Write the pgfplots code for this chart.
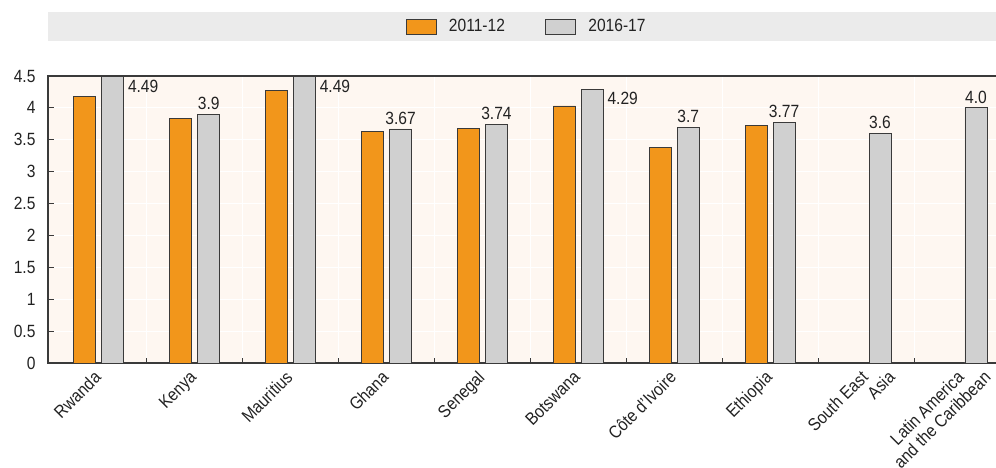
\documentclass[border=0pt]{standalone}
\usepackage{pgfplots}
\pgfplotsset{compat=1.18}
\usepackage{fontspec}
\setmainfont{Liberation Sans}[FakeStretch=0.88]
\definecolor{orangebar}{HTML}{F2961B}
\definecolor{graybar}{HTML}{D0D0D0}
\definecolor{barline}{HTML}{3A3A3A}
\definecolor{bgpeach}{HTML}{FEF7F1}
\definecolor{bandgray}{HTML}{EBEBEB}
\definecolor{txt}{HTML}{222222}
\newcommand{\twoline}[2]{#1\rlap{\raisebox{-19pt}{\hspace*{19pt}\llap{#2}}}}
\begin{document}
\begin{tikzpicture}
\useasboundingbox (-48pt,-104pt) rectangle (948pt,363pt);
\begin{axis}[
  at={(0pt,0pt)}, anchor=south west,
  scale only axis, width=952pt, height=287pt,
  xmin=-0.53, xmax=9.397, ymin=0, ymax=4.5,
  clip=false,
  axis background/.style={fill=bgpeach},
  ytick={0,0.5,...,4.5},
  xtick={0,...,9},
  xticklabels={Rwanda,Kenya,Mauritius,Ghana,Senegal,Botswana,{C\^ote d'Ivoire},Ethiopia,{\twoline{South East}{Asia}},{\twoline{Latin America}{and the Caribbean}}},
  minor xtick={0.5,1.5,...,8.5},
  xminorgrids, ymajorgrids,
  major grid style={white, line width=0.8pt},
  minor grid style={white, line width=0.8pt},
  tick align=inside, ytick pos=left, xtick pos=bottom,
  major tick length=6pt, minor tick length=5pt,
  major x tick style={draw=none},
  tick style={barline, line width=0.8pt},
  axis line style={barline, line width=1.2pt},
  /pgf/number format/assume math mode=true,
  yticklabel style={font=\fontsize{17.7}{20}\selectfont, text=txt, xshift=-9pt},
  xticklabel style={xshift=-6pt, yshift=-5pt, font=\fontsize{17.7}{19}\selectfont, text=txt, rotate=45, anchor=north east, inner sep=1pt},
  legend style={at={(0.5027,1.1725)}, anchor=center, draw=none, fill=none, legend columns=2, font=\fontsize{17.7}{20}\selectfont, text=txt, /tikz/every even column/.append style={column sep=38pt}},
  legend image code/.code={\path[draw=none, fill=none] (0pt,0pt) -- (41pt,0pt);\draw[#1, draw=barline, line width=0.8pt] (0pt,-7.5pt) rectangle (30pt,7.5pt);},
  every node near coord/.append style={font=\fontsize{17.7}{20}\selectfont, text=txt},
]
\fill[bandgray] (rel axis cs:0,1.122) rectangle (rel axis cs:1.01,1.223);
\addplot[ybar, bar width=0.229, bar shift=-0.146, fill=orangebar, draw=barline, line width=0.8pt]
  coordinates {(0,4.18) (1,3.83) (2,4.28) (3,3.63) (4,3.68) (5,4.03) (6,3.38) (7,3.73)};
\addlegendentry{2011-12}
\addplot[ybar, bar width=0.229, bar shift=0.146, fill=graybar, draw=barline, line width=0.8pt]
  coordinates {(0,4.49) (1,3.9) (2,4.49) (3,3.67) (4,3.74) (5,4.29) (6,3.7) (7,3.77) (8,3.6) (9,4.0)};
\addlegendentry{2016-17}
% labels above bars (x = category + bar shift)
\addplot[forget plot, draw=none, mark=none,
  nodes near coords, point meta=explicit symbolic,
  nodes near coords style={anchor=south, inner sep=2pt, yshift=2.5pt}]
  coordinates {(1.146,3.9)[3.9] (3.146,3.67)[3.67] (4.146,3.74)[3.74] (6.146,3.7)[3.7] (7.146,3.77)[3.77] (8.146,3.6)[3.6] (9.146,4.0)[4.0]};
% labels right of bars (x = category + bar shift + half bar width)
\addplot[forget plot, draw=none, mark=none,
  nodes near coords, point meta=explicit symbolic,
  nodes near coords style={anchor=north west, inner sep=2pt, xshift=2pt, yshift=-1pt}]
  coordinates {(0.2605,4.49)[4.49] (2.2605,4.49)[4.49] (5.2605,4.29)[4.29]};
\end{axis}
\end{tikzpicture}
\end{document}
